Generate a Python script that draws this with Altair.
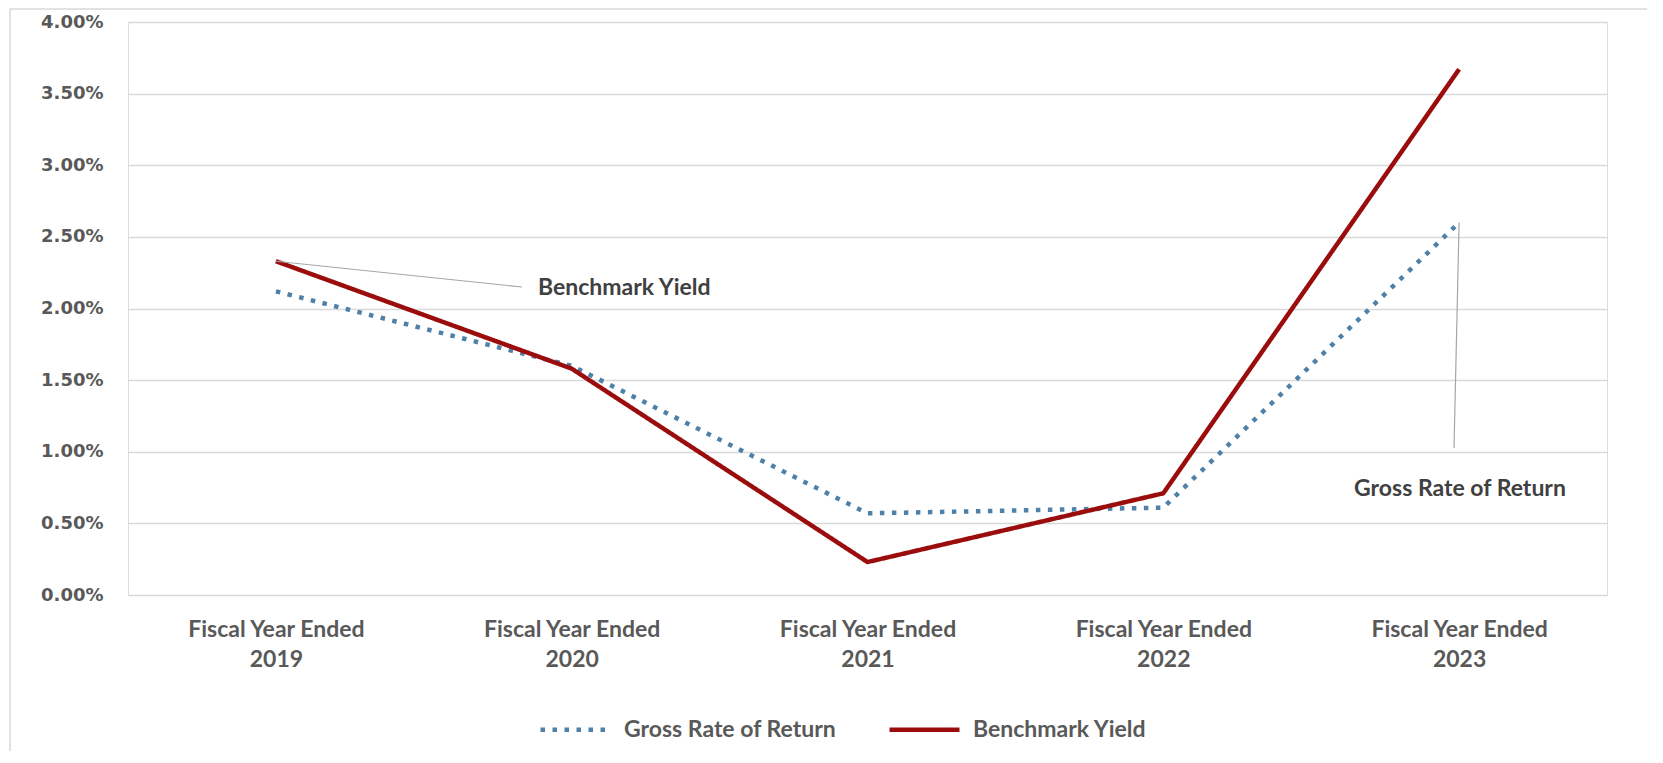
import altair as alt
import pandas as pd

years = ["2019", "2020", "2021", "2022", "2023"]
gross_rate = [0.0212, 0.0160, 0.0057, 0.0061, 0.0260]
benchmark_yield = [0.0233, 0.0158, 0.0023, 0.0071, 0.0367]
series_names = ["Gross Rate of Return", "Benchmark Yield"]
series_colors = ["#4f81a8", "#9b0d0d"]
series_dash = [[4.5, 7.5], [1, 0]]
y_ticks = [0.0, 0.005, 0.01, 0.015, 0.02, 0.025, 0.03, 0.035, 0.04]

rows = []
for name, vals in zip(series_names, [gross_rate, benchmark_yield]):
    for yr, v in zip(years, vals):
        rows.append({"year": yr, "series": name, "value": v})
df = pd.DataFrame(rows)

x_scale = alt.Scale(type="point", padding=0.5, domain=years)
y_scale = alt.Scale(domain=[0, 0.04], nice=False)

legend = alt.Legend(
    title=None, orient="none", direction="horizontal", legendX=410, legendY=670,
    symbolType="stroke", symbolSize=4900, symbolStrokeWidth=4.5,
    labelFont="Lato", labelFontWeight="bold", labelFontSize=23, labelColor="#595959",
    labelOffset=11, columnPadding=43, padding=0, labelLimit=400,
)

lines = alt.Chart(df).mark_line(strokeWidth=4.5, strokeCap="butt", strokeJoin="round").encode(
    x=alt.X("year:O", scale=x_scale, sort=years, axis=alt.Axis(
        title=None, labelExpr="['Fiscal Year Ended', datum.label]", labelAngle=0,
        ticks=False, domain=False, grid=False, labelFont="Lato", labelFontWeight="bold",
        labelFontSize=23, labelColor="#595959", labelLineHeight=30, labelPadding=23,
        labelBaseline="top")),
    y=alt.Y("value:Q", scale=y_scale, axis=alt.Axis(
        values=y_ticks, format=".2%", title=None, ticks=False, domain=False,
        gridColor="#d9d9d9", gridWidth=1.3, labelFont="DejaVu Sans", labelFontWeight="bold",
        labelFontSize=18, labelColor="#595959", labelPadding=25)),
    color=alt.Color("series:N", scale=alt.Scale(domain=series_names, range=series_colors), legend=legend),
    strokeDash=alt.StrokeDash("series:N", scale=alt.Scale(domain=series_names, range=series_dash), legend=legend),
)

bench_ann = pd.DataFrame({"year": [years[0]], "value": [benchmark_yield[0]], "label": ["Benchmark Yield"]})
gross_ann = pd.DataFrame({"year": [years[4]], "value": [gross_rate[4]], "label": ["Gross Rate of Return"]})

leader1 = alt.Chart(bench_ann).mark_rule(color="#a6a6a6", strokeWidth=1.2).encode(
    x=alt.X("year:O", scale=x_scale, sort=years), y=alt.Y("value:Q", scale=y_scale),
    x2=alt.value(394), y2=alt.value(265))
text1 = alt.Chart(bench_ann).mark_text(align="left", baseline="middle", font="Lato", fontWeight="bold",
                                        fontSize=23, color="#404040").encode(
    x=alt.value(410), y=alt.value(266), text="label:N")

leader2 = alt.Chart(gross_ann).mark_rule(color="#a6a6a6", strokeWidth=1.2).encode(
    x=alt.X("year:O", scale=x_scale, sort=years), y=alt.Y("value:Q", scale=y_scale),
    x2=alt.value(1326), y2=alt.value(426))
text2 = alt.Chart(gross_ann).mark_text(align="center", baseline="middle", font="Lato", fontWeight="bold",
                                        fontSize=23, color="#404040").encode(
    x=alt.value(1332), y=alt.value(467), text="label:N")

frame = pd.DataFrame({"k": [0]})
border_left = alt.Chart(frame).mark_rule(stroke="#d9d9d9", strokeWidth=1.5).encode(
    x=alt.value(-118), y=alt.value(-13), y2=alt.value(900))
border_top = alt.Chart(frame).mark_rule(stroke="#d9d9d9", strokeWidth=1.5).encode(
    x=alt.value(-118), x2=alt.value(1700), y=alt.value(-13))

chart = alt.layer(border_left, border_top, lines, leader1, text1, leader2, text2).properties(
    width=1479, height=573,
    padding={"left": 120, "top": 14, "right": 40, "bottom": 156},
    autosize=alt.AutoSizeParams(type="none"),
).configure_view(stroke=None).configure(background="white")

chart.save("out.html", embed_options={"renderer": "svg", "actions": False})
